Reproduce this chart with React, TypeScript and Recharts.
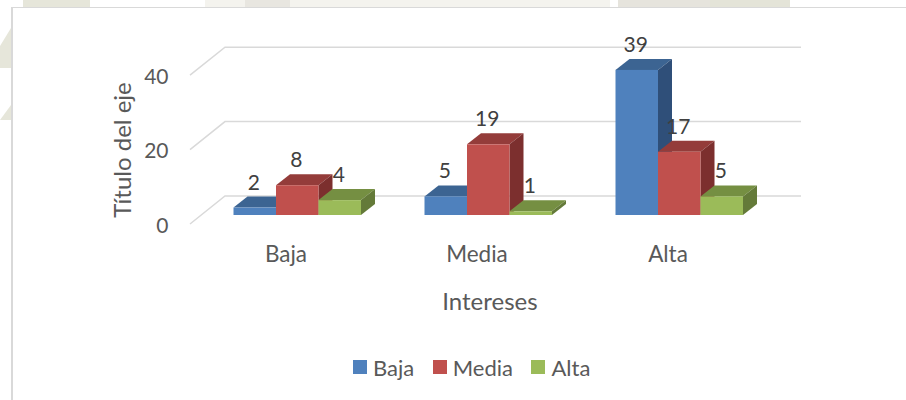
import { BarChart, Bar, XAxis, YAxis, CartesianGrid, Legend, LabelList, Label } from 'recharts';

const categories = ['Baja', 'Media', 'Alta'];
const bajaValues = [2, 5, 39];
const mediaValues = [8, 19, 17];
const altaValues = [4, 1, 5];
const yTicks = [0, 20, 40];

const FONT = 'Lato, Carlito, Calibri, sans-serif';
const DEPTH_X = 14;
const DEPTH_Y = 11;

const data = categories.map((name, i) => ({
  name,
  Baja: bajaValues[i],
  Media: mediaValues[i],
  Alta: altaValues[i],
}));

const seriesStyles = [
  { key: 'Baja', front: '#4f81bd', top: '#3c6492', side: '#2f4f79' },
  { key: 'Media', front: '#c0504d', top: '#943c3a', side: '#7c2f2e' },
  { key: 'Alta', front: '#9bbb59', top: '#758f42', side: '#647a39' },
];

// Recharts has no 3D bars, so the box is drawn around the rectangle it gives us
function makeBox3D(style: { front: string; top: string; side: string }) {
  return function Box3D(props: any) {
    const { x, y, width, height } = props;
    const r = x + width;
    const b = y + height;
    return (
      <g>
        <polygon points={`${x},${y} ${x + DEPTH_X},${y - DEPTH_Y} ${r + DEPTH_X},${y - DEPTH_Y} ${r},${y}`} fill={style.top} />
        <polygon points={`${r},${y} ${r + DEPTH_X},${y - DEPTH_Y} ${r + DEPTH_X},${b - DEPTH_Y} ${r},${b}`} fill={style.side} />
        <rect x={x} y={y} width={width} height={height} fill={style.front} />
      </g>
    );
  };
}

function gridLine(props: any) {
  const { x1, x2, y1, key } = props;
  return (
    <polyline
      key={key}
      points={`${x1 - 11.5},${y1 + 9} ${x1 + 23.5},${y1 - 19} ${x2 + 26.5},${y1 - 19}`}
      fill="none"
      stroke="#d9d9d9"
      strokeWidth={1.5}
    />
  );
}

function ValueLabel(props: any) {
  const { x, y, width, value } = props;
  return (
    <text x={x + width / 2 - 1} y={y - 26.5} textAnchor="middle" dominantBaseline="central" fontFamily={FONT} fontSize={21} fill="#404040">
      {value}
    </text>
  );
}

function YTick(props: any) {
  const { x, y, payload } = props;
  return (
    <text x={x} y={y + 9} textAnchor="end" dominantBaseline="central" fontFamily={FONT} fontSize={21} fill="#595959">
      {payload.value}
    </text>
  );
}

function XTick(props: any) {
  const { x, y, payload } = props;
  return (
    <text x={x - 11} y={y + 2} textAnchor="middle" dominantBaseline="central" fontFamily={FONT} fontSize={22.5} fill="#595959">
      {payload.value}
    </text>
  );
}

function XTitle(props: any) {
  const { viewBox } = props;
  return (
    <text x={viewBox.x + viewBox.width / 2 + 2} y={300} textAnchor="middle" dominantBaseline="central" fontFamily={FONT} fontSize={24} fill="#595959">
      Intereses
    </text>
  );
}

function YTitle() {
  return (
    <text transform="translate(121 150) rotate(-90)" textAnchor="middle" dominantBaseline="central" fontFamily={FONT} fontSize={24} fill="#595959">
      Título del eje
    </text>
  );
}

function LegendRow(props: any) {
  const { payload } = props;
  return (
    <div style={{ height: 0, display: 'flex', alignItems: 'center', fontFamily: FONT, fontSize: 22, color: '#595959', whiteSpace: 'nowrap' }}>
      {(payload || []).map((item: any) => (
        <span key={item.value} style={{ display: 'inline-flex', alignItems: 'center', marginRight: 18.5 }}>
          <span style={{ width: 14, height: 14, background: item.color, marginRight: 6, display: 'inline-block' }} />
          {item.value}
        </span>
      ))}
    </div>
  );
}

// faint scanned watermark behind the chart box
const watermark = [
  { left: 23, width: 67, color: '#e6e6da' },
  { left: 205, width: 405, color: '#f4f3ee' },
  { left: 245, width: 45, color: '#e8e6e0' },
  { left: 618, width: 92, color: '#e6e4dd' },
  { left: 710, width: 80, color: '#e4e4d8' },
];

export default function App() {
  return (
    <div style={{ position: 'absolute', left: 0, top: 0, width: 906, height: 400, background: '#fff', overflow: 'hidden' }}>
      {watermark.map((w) => (
        <div key={w.left} style={{ position: 'absolute', top: 0, left: w.left, width: w.width, height: 7, background: w.color }} />
      ))}
      <div style={{ position: 'absolute', top: 28, left: 0, width: 11, height: 40, background: '#e6e6da', clipPath: 'polygon(100% 0, 100% 100%, 0 100%, 0 45%)' }} />
      <div style={{ position: 'absolute', top: 105, left: 0, width: 11, height: 15, background: '#e6e6da', clipPath: 'polygon(100% 0, 100% 100%, 0 100%)' }} />
      <div style={{ position: 'absolute', left: 11, top: 7, width: 895, height: 393, background: '#fff', borderLeft: '2px solid #d9d9d9', borderTop: '1.5px solid #d9d9d9', boxSizing: 'border-box' }} />
      <div style={{ position: 'absolute', left: 0, top: 0 }}>
        <BarChart
          width={906}
          height={400}
          data={data}
          barSize={42.5}
          barGap={0}
          barCategoryGap={31.75}
          margin={{ top: 66.2, right: 131.5, bottom: 125, left: 0 }}
        >
          <CartesianGrid horizontal={gridLine} vertical={false} />
          <XAxis dataKey="name" height={60} axisLine={false} tickLine={false} tick={<XTick />} tickMargin={30} interval={0}>
            <Label content={<XTitle />} />
          </XAxis>
          <YAxis width={201.5} domain={[0, 40]} ticks={yTicks} axisLine={false} tickLine={false} tick={<YTick />} tickMargin={27}>
            <Label content={<YTitle />} />
          </YAxis>
          <Legend
            verticalAlign="bottom"
            itemSorter={null}
            content={<LegendRow />}
            wrapperStyle={{ left: 353, top: 367, width: 260, height: 0, bottom: 'auto' }}
          />
          {seriesStyles.map((s) => (
            <Bar key={s.key} dataKey={s.key} name={s.key} fill={s.front} shape={makeBox3D(s)} isAnimationActive={false}>
              <LabelList dataKey={s.key} content={<ValueLabel />} />
            </Bar>
          ))}
        </BarChart>
      </div>
    </div>
  );
}
